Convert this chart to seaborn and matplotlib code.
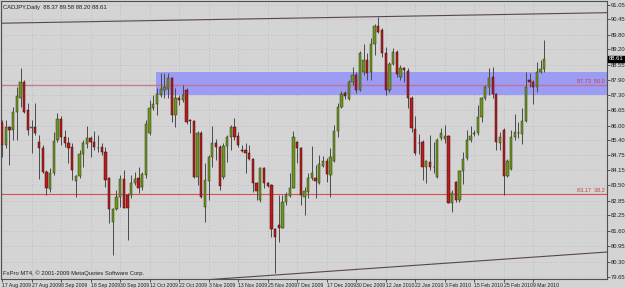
import matplotlib
matplotlib.use("Agg")
import matplotlib.pyplot as plt
import seaborn as sns
import numpy as np

# ---------------- data ----------------
symbol_title = "CADJPY,Daily  88.37 89.58 88.20 88.61"
copyright_text = "FxPro MT4, \u00a9 2001-2009 MetaQuotes Software Corp."

opens = [
    86.11, 85.18, 85.94, 85.81, 86.57, 87.15, 87.82, 86.65, 85.90, 85.94,
    85.31, 85.06, 84.05, 83.34, 84.01, 85.39, 86.27, 85.52, 85.27, 85.10,
    83.68, 83.89, 84.81, 85.23, 85.48, 85.31, 85.06, 85.10, 84.89, 83.80,
    81.96, 82.50, 83.01, 83.76, 83.09, 83.09, 83.59, 83.80, 83.43, 83.93,
    85.69, 86.73, 86.90, 87.28, 87.49, 87.53, 87.99, 86.44, 87.15, 87.07,
    87.49, 86.23, 86.19, 83.84, 85.69, 82.59, 83.68, 84.68, 85.27, 85.10,
    83.84, 85.14, 85.52, 85.94, 85.56, 84.99, 84.97, 84.85, 84.60, 83.59,
    82.88, 84.22, 83.59, 83.51, 81.66, 81.83, 81.71, 82.80, 83.05, 83.38,
    85.31, 85.06, 83.01, 83.22, 83.80, 83.80, 83.59, 84.30, 84.51, 83.93,
    84.51, 85.77, 86.78, 87.36, 87.11, 87.82, 88.12, 87.49, 88.24, 88.75,
    88.24, 89.42, 90.17, 90.00, 89.04, 87.49, 88.58, 89.08, 88.03, 88.41,
    88.28, 87.15, 85.86, 85.27, 85.31, 84.26, 84.47, 84.28, 83.84, 85.48,
    85.44, 85.56, 82.75, 83.63, 82.88, 84.09, 84.64, 85.39, 85.65, 85.69,
    86.36, 87.15, 87.61, 88.03, 87.32, 85.27, 85.81, 83.89, 84.18, 85.52,
    85.67, 85.65, 86.19, 87.91, 87.82, 87.61, 88.24, 88.37]

highs = [
    86.23, 86.23, 86.00, 86.78, 87.61, 88.41, 87.91, 86.94, 86.23, 86.94,
    85.60, 85.18, 84.14, 84.22, 85.73, 86.53, 86.40, 85.81, 85.52, 85.27,
    83.93, 84.97, 85.39, 85.98, 85.56, 85.77, 85.60, 85.27, 85.10, 83.84,
    82.54, 83.30, 83.93, 84.14, 83.17, 83.93, 84.05, 84.26, 84.05, 86.23,
    87.07, 87.28, 87.57, 88.20, 88.20, 88.20, 88.03, 87.57, 87.28, 87.70,
    87.57, 86.27, 86.23, 85.77, 85.77, 84.43, 84.77, 85.98, 85.44, 85.18,
    85.27, 85.60, 86.02, 86.31, 85.73, 85.18, 85.27, 85.18, 84.64, 83.63,
    84.26, 84.26, 83.63, 83.55, 81.71, 83.09, 83.09, 83.22, 84.01, 85.77,
    85.35, 85.10, 83.43, 84.01, 85.14, 84.35, 84.77, 84.72, 84.64, 85.06,
    86.02, 86.94, 87.45, 87.45, 87.91, 88.45, 88.24, 89.12, 89.42, 89.04,
    89.67, 90.25, 90.55, 90.09, 89.29, 88.66, 89.25, 89.17, 88.54, 88.45,
    88.41, 87.24, 86.40, 85.64, 85.39, 84.56, 85.60, 85.31, 85.48, 85.90,
    86.02, 85.60, 83.30, 83.68, 84.14, 84.89, 85.81, 85.98, 85.81, 86.86,
    87.20, 87.70, 88.41, 88.45, 87.36, 85.73, 85.90, 84.60, 85.81, 86.49,
    86.15, 86.73, 88.24, 88.20, 87.91, 88.66, 88.75, 89.58]

lows = [
    84.68, 85.06, 84.35, 85.39, 85.39, 86.78, 86.53, 85.60, 84.85, 85.60,
    83.76, 84.01, 83.09, 83.22, 83.93, 85.31, 85.18, 85.10, 84.43, 83.72,
    83.01, 83.80, 84.26, 85.06, 84.68, 84.97, 84.89, 84.77, 83.43, 81.92,
    80.58, 82.46, 82.59, 82.54, 81.20, 82.96, 83.51, 83.17, 83.30, 83.80,
    85.60, 86.65, 86.44, 87.20, 87.15, 87.15, 86.15, 85.94, 86.86, 86.99,
    86.06, 85.69, 83.80, 83.51, 82.96, 81.96, 82.88, 84.26, 84.56, 83.30,
    83.76, 84.47, 84.97, 85.39, 85.10, 84.89, 84.01, 84.56, 83.22, 82.88,
    82.80, 83.38, 83.43, 81.33, 79.82, 81.12, 81.71, 82.67, 83.01, 83.38,
    84.43, 82.67, 82.25, 82.96, 83.72, 82.96, 83.55, 84.26, 83.63, 83.01,
    84.47, 85.52, 86.73, 87.11, 87.07, 87.70, 87.36, 87.45, 88.12, 87.91,
    87.91, 88.96, 89.88, 88.87, 87.28, 87.41, 88.54, 88.03, 87.91, 87.82,
    86.73, 85.73, 84.77, 84.81, 83.72, 83.59, 84.14, 84.01, 83.80, 85.39,
    85.27, 82.75, 82.38, 82.80, 82.80, 83.55, 84.56, 85.31, 85.56, 85.60,
    86.15, 87.07, 87.28, 87.15, 84.97, 84.97, 83.09, 83.84, 84.14, 85.39,
    85.48, 85.23, 86.15, 87.61, 86.90, 87.41, 88.20, 88.24]

closes = [
    85.18, 85.94, 85.81, 86.57, 87.24, 87.82, 86.57, 85.81, 85.92, 85.69,
    85.06, 84.05, 83.38, 84.01, 85.35, 86.27, 85.52, 85.27, 85.06, 84.14,
    83.89, 84.81, 85.27, 85.48, 85.31, 85.10, 85.04, 84.89, 83.72, 82.50,
    82.50, 83.01, 83.76, 82.54, 82.54, 83.59, 83.76, 83.38, 83.97, 86.06,
    86.73, 86.90, 87.32, 87.53, 87.61, 87.99, 86.44, 87.15, 87.07, 87.28,
    86.15, 86.19, 83.84, 85.69, 83.01, 83.72, 84.68, 85.27, 85.10, 83.47,
    85.14, 85.52, 85.94, 85.52, 85.18, 84.95, 84.85, 84.60, 83.59, 83.26,
    84.22, 83.59, 83.47, 81.66, 81.33, 81.71, 82.80, 83.09, 83.38, 85.52,
    85.06, 83.09, 83.26, 83.80, 84.01, 83.68, 84.39, 84.51, 83.97, 84.68,
    85.77, 86.78, 87.32, 87.24, 87.82, 88.12, 87.49, 89.04, 88.75, 88.20,
    89.42, 90.17, 89.92, 89.04, 87.49, 88.58, 89.08, 88.16, 88.41, 88.33,
    87.15, 85.90, 84.85, 85.25, 84.26, 84.51, 84.26, 84.26, 85.39, 85.69,
    85.56, 82.75, 83.17, 82.88, 84.09, 84.60, 85.39, 85.56, 85.69, 86.36,
    87.15, 87.61, 87.99, 87.32, 85.31, 85.52, 83.89, 84.51, 85.52, 85.73,
    85.69, 86.19, 87.61, 87.82, 87.61, 88.24, 88.37, 88.80]

date_tick_pos = [0, 8, 16, 24, 32, 40, 48, 56, 64, 72, 80, 88, 96, 104,
                 112, 120, 128, 136, 144]
date_tick_labels = ["17 Aug 2009", "27 Aug 2009", "8 Sep 2009", "18 Sep 2009",
                    "30 Sep 2009", "12 Oct 2009", "22 Oct 2009", "3 Nov 2009",
                    "13 Nov 2009", "25 Nov 2009", "7 Dec 2009", "17 Dec 2009",
                    "30 Dec 2009", "12 Jan 2010", "22 Jan 2010", "3 Feb 2010",
                    "15 Feb 2010", "25 Feb 2010", "9 Mar 2010"]
price_ticks = [91.05, 90.45, 89.80, 89.20, 88.55, 87.90, 87.30, 86.65, 86.00,
               85.40, 84.75, 84.15, 83.50, 82.85, 82.25, 81.60, 80.95, 80.30,
               79.65]

# horizontal levels and zone
level_upper = 87.71
level_upper_text = "87.73  50.0"
level_lower = 83.12
level_lower_text = "83.17  38.2"
zone_start_bar = 42
zone_top = 88.26
zone_bottom = 87.29
# trend lines (bar index, price)
upper_trend_x = [0, 164]
upper_trend_y = [90.29, 90.73]
lower_trend_x = [52, 164]
lower_trend_y = [79.50, 80.70]
last_price_label = "88.61"
last_price_level = 88.80

# ---------------- styling ----------------
sns.set_style("white")
plt.rcParams["font.family"] = ["Liberation Sans Narrow", "Liberation Sans",
                               "DejaVu Sans"]

BG = "#d4d4d4"
fig = plt.figure(figsize=(6.25, 2.88), dpi=100, facecolor=BG)
ax = fig.add_axes([1 / 625, 9 / 288, 606 / 625, 278 / 288])
ax.set_facecolor(BG)

n = len(opens)
xs = np.arange(n)
o = np.array(opens); c = np.array(closes)
h = np.array(highs); l = np.array(lows)
up = c >= o

# zone & lines (behind candles)
ax.fill_between([zone_start_bar - 0.3, 170], zone_bottom, zone_top,
                color="#9c9cf4", zorder=1, lw=0)
ax.axhline(level_upper, color="#c86a8a", lw=1.0, alpha=0.85, zorder=1.5)
ax.axhline(level_lower, color="#d85050", lw=0.8, zorder=1.5)
ax.plot(upper_trend_x, upper_trend_y, color="#5a4454", lw=0.8, zorder=2)
ax.plot(lower_trend_x, lower_trend_y, color="#5a4454", lw=0.8, zorder=2)

# grid
for pt in price_ticks:
    ax.axhline(pt, color="#a9a9bd", lw=0.5, ls=(0, (1, 3)), zorder=0.5)
for dp in date_tick_pos:
    ax.axvline(dp, color="#a9a9bd", lw=0.5, ls=(0, (1, 3)), zorder=0.5)

# wicks
ax.vlines(xs, l, h, color="#4a4a4a", lw=0.7, zorder=3)
# bodies
body_w = 0.62
ax.bar(xs[up], (c - o)[up], bottom=o[up], width=body_w,
       color="#6e9424", edgecolor="#2e3c0c", lw=0.35, zorder=4)
ax.bar(xs[~up], (c - o)[~up], bottom=o[~up], width=body_w,
       color="#b81c1c", edgecolor="#3c0c0c", lw=0.35, zorder=4)

ax.set_xlim(-0.3, 164.0)
ax.set_ylim(79.57, 91.22)

# axes / ticks
ax.yaxis.tick_right()
ax.set_yticks(price_ticks)
ax.set_yticklabels([f"{v:.2f}" for v in price_ticks])
ax.tick_params(axis="y", labelsize=4.2, length=2, width=0.5, pad=1.0,
               colors="#202020", right=True, left=False)
ax.set_xticks(date_tick_pos)
ax.set_xticklabels(date_tick_labels, ha="left")
ax.tick_params(axis="x", labelsize=3.7, length=2, width=0.5, pad=1.2,
               colors="#202020", bottom=True)
for s in ax.spines.values():
    s.set_color("#505050")
    s.set_linewidth(0.8)

# texts
ax.text(0.004, 0.985, symbol_title, transform=ax.transAxes, fontsize=4.2,
        va="top", ha="left", color="#202020")
ax.text(0.004, 0.012, copyright_text, transform=ax.transAxes, fontsize=4.2,
        va="bottom", ha="left", color="#202020")
ax.text(163.5, level_upper + 0.05, level_upper_text, fontsize=4.0,
        color="#c83c3c", ha="right", va="bottom")
ax.text(163.5, level_lower + 0.05, level_lower_text, fontsize=4.0,
        color="#c83c3c", ha="right", va="bottom")
ax.annotate(last_price_label, xy=(1.0, last_price_level),
            xycoords=("axes fraction", "data"), xytext=(1.5, 0),
            textcoords="offset points", fontsize=4.2, color="white",
            va="center", ha="left",
            bbox=dict(boxstyle="square,pad=0.12", fc="black", ec="black"))

fig.savefig("out.png", dpi=100, facecolor=BG)
